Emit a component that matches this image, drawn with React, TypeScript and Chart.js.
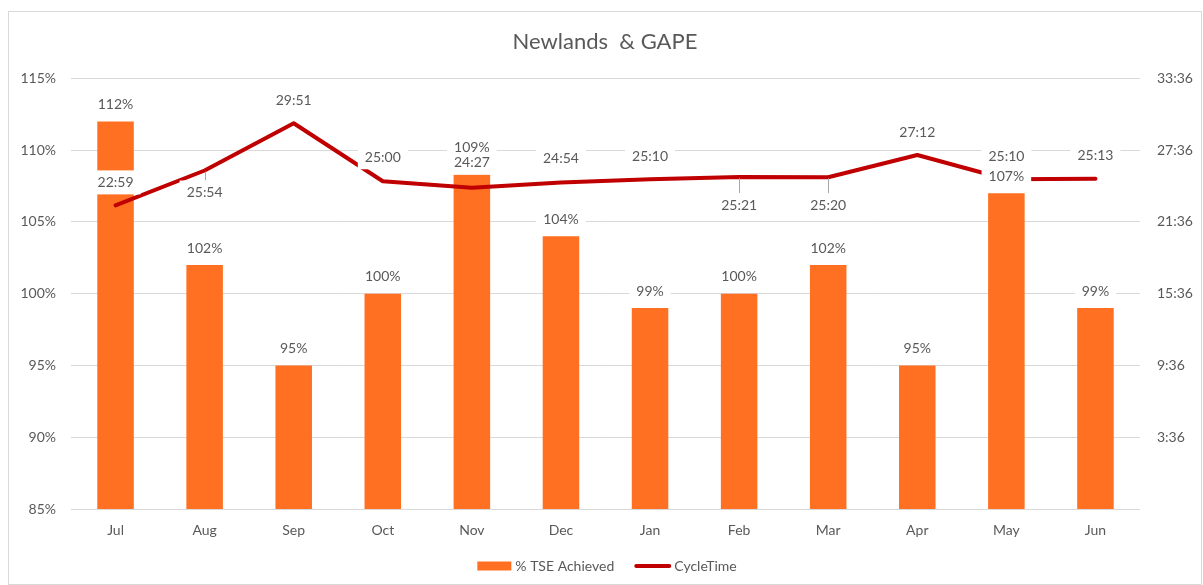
import React, { useEffect, useRef } from 'react';
import { Chart, registerables } from 'chart.js';

Chart.register(...registerables);

// ---- Data ----
const MONTHS = ['Jul', 'Aug', 'Sep', 'Oct', 'Nov', 'Dec', 'Jan', 'Feb', 'Mar', 'Apr', 'May', 'Jun'];
const TSE_ACHIEVED = [112, 102, 95, 100, 109, 104, 99, 100, 102, 95, 107, 99];
const CYCLE_TIME = ['22:59', '25:54', '29:51', '25:00', '24:27', '24:54', '25:10', '25:21', '25:20', '27:12', '25:10', '25:13'];
const LEFT_AXIS = { min: 85, max: 115, step: 5 };
const RIGHT_AXIS_RANGE = ['-2:24', '33:36'];
const RIGHT_TICK_LABELS = ['3:36', '9:36', '15:36', '21:36', '27:36', '33:36'];

// ---- Label placement (style, not data) ----
const LINE_LABEL_DY = [-23, 22, -23, -24, -25, -24, -23, 28, 28, -22, -23, -23];
const BAR_LABEL_DY = -17;

const FONT = 'Lato, "Noto Sans", sans-serif';
const TEXT = '#595959';
const BAR_COLOR = '#FF7022';
const LINE_COLOR = '#C00000';

function toSec(s: string): number {
  const neg = s.trim().startsWith('-');
  const [m, sec] = s.replace('-', '').split(':').map(Number);
  const v = m * 60 + sec;
  return neg ? -v : v;
}
function fmt(v: number): string {
  const m = Math.floor(v / 60);
  const s = Math.round(v - m * 60);
  return m + ':' + String(s).padStart(2, '0');
}

const labelPlugin = {
  id: 'dataLabelsCustom',
  afterDatasetsDraw(chart: any) {
    const ctx = chart.ctx as CanvasRenderingContext2D;
    ctx.save();
    ctx.font = `14px ${FONT}`;
    const items: { x: number; y: number; text: string; leader: number | null }[] = [];
    chart.getDatasetMeta(0).data.forEach((el: any, i: number) => {
      items.push({ x: el.x, y: el.y + BAR_LABEL_DY, text: TSE_ACHIEVED[i] + '%', leader: null });
    });
    chart.getDatasetMeta(1).data.forEach((el: any, i: number) => {
      const dy = LINE_LABEL_DY[i];
      items.push({ x: el.x, y: el.y + dy, text: CYCLE_TIME[i], leader: dy > 0 ? el.y : null });
    });
    ctx.strokeStyle = '#A6A6A6';
    ctx.lineWidth = 1;
    items.forEach((it) => {
      if (it.leader != null) {
        ctx.beginPath();
        ctx.moveTo(Math.round(it.x) + 0.5, it.leader + 1);
        ctx.lineTo(Math.round(it.x) + 0.5, it.y - 12);
        ctx.stroke();
      }
    });
    ctx.fillStyle = '#FFFFFF';
    items.forEach((it) => {
      const w = ctx.measureText(it.text).width + 14;
      ctx.fillRect(it.x - w / 2, it.y - 12, w, 24);
    });
    ctx.fillStyle = TEXT;
    ctx.textAlign = 'center';
    ctx.textBaseline = 'middle';
    items.forEach((it) => ctx.fillText(it.text, it.x, it.y));
    ctx.restore();
  },
};

const legendPlugin = {
  id: 'legendCustom',
  afterDraw(chart: any) {
    const ctx = chart.ctx as CanvasRenderingContext2D;
    ctx.save();
    ctx.font = `14px ${FONT}`;
    const t1 = '% TSE Achieved';
    const t2 = 'CycleTime';
    const w1 = ctx.measureText(t1).width;
    const w2 = ctx.measureText(t2).width;
    const total = 34 + 4 + w1 + 20 + 37 + 3 + w2;
    let x = chart.width / 2 - total / 2 + 2;
    const y = chart.height - 18;
    ctx.fillStyle = BAR_COLOR;
    ctx.fillRect(x, y - 4.5, 34, 9);
    x += 38;
    ctx.fillStyle = TEXT;
    ctx.textAlign = 'left';
    ctx.textBaseline = 'middle';
    ctx.fillText(t1, x, y);
    x += w1 + 20;
    ctx.strokeStyle = LINE_COLOR;
    ctx.lineWidth = 4;
    ctx.lineCap = 'round';
    ctx.beginPath();
    ctx.moveTo(x + 2, y);
    ctx.lineTo(x + 35, y);
    ctx.stroke();
    x += 40;
    ctx.fillText(t2, x, y);
    ctx.restore();
  },
};

export default function App() {
  const ref = useRef<HTMLCanvasElement | null>(null);
  useEffect(() => {
    document.documentElement.style.overflow = 'hidden';
    document.body.style.overflow = 'hidden';
    if (!ref.current) return;
    Chart.defaults.font.family = FONT;
    const rMin = toSec(RIGHT_AXIS_RANGE[0]);
    const rMax = toSec(RIGHT_AXIS_RANGE[1]);
    const rightTicks = RIGHT_TICK_LABELS.map(toSec);
    const chart = new Chart(ref.current, {
      type: 'bar',
      data: {
        labels: MONTHS,
        datasets: [
          {
            type: 'bar',
            label: '% TSE Achieved',
            data: TSE_ACHIEVED,
            backgroundColor: BAR_COLOR,
            barPercentage: 0.41,
            categoryPercentage: 1,
            yAxisID: 'y',
            order: 2,
          },
          {
            type: 'line',
            label: 'CycleTime',
            data: CYCLE_TIME.map(toSec),
            borderColor: LINE_COLOR,
            backgroundColor: LINE_COLOR,
            borderWidth: 4,
            pointRadius: 0,
            tension: 0,
            borderCapStyle: 'round',
            borderJoinStyle: 'round',
            yAxisID: 'y1',
            order: 1,
          } as any,
        ],
      },
      options: {
        animation: false,
        responsive: true,
        maintainAspectRatio: false,
        layout: { padding: { left: 0, right: 0, top: 0, bottom: 40 } },
        plugins: {
          legend: { display: false },
          tooltip: { enabled: false },
          title: {
            display: true,
            text: 'Newlands  & GAPE',
            color: TEXT,
            font: { family: FONT, size: 22, weight: 'normal' },
            padding: { top: 17, bottom: 23 },
          },
        },
        scales: {
          x: {
            offset: true,
            grid: { display: false, drawTicks: false },
            border: { display: false },
            ticks: { color: TEXT, font: { size: 14 }, padding: 13 },
            afterFit: (s: any) => { s.height = 35; },
          },
          y: {
            position: 'left',
            min: LEFT_AXIS.min,
            max: LEFT_AXIS.max,
            grid: { color: '#D9D9D9', drawTicks: false, lineWidth: 1 },
            border: { display: false },
            ticks: {
              stepSize: LEFT_AXIS.step,
              color: TEXT,
              font: { size: 14 },
              padding: 15,
              callback: (v: any) => v + '%',
            },
            afterFit: (s: any) => { s.width = 62; },
          },
          y1: {
            position: 'right',
            min: rMin,
            max: rMax,
            grid: { display: false, drawTicks: false },
            border: { display: false },
            ticks: {
              color: TEXT,
              font: { size: 14 },
              padding: 17,
              callback: (v: any) => (v < 0 ? '' : fmt(Number(v))),
            },
            afterBuildTicks: (s: any) => {
              s.ticks = rightTicks.map((v) => ({ value: v }));
            },
            afterFit: (s: any) => { s.width = 61; },
          },
        },
      } as any,
      plugins: [labelPlugin, legendPlugin],
    });
    return () => chart.destroy();
  }, []);

  return (
    <div
      style={{
        position: 'fixed',
        left: 8,
        top: 11,
        width: 1194,
        height: 574,
        border: '1px solid #D9D9D9',
        boxSizing: 'border-box',
        background: '#fff',
      }}
    >
      <canvas ref={ref} />
    </div>
  );
}
